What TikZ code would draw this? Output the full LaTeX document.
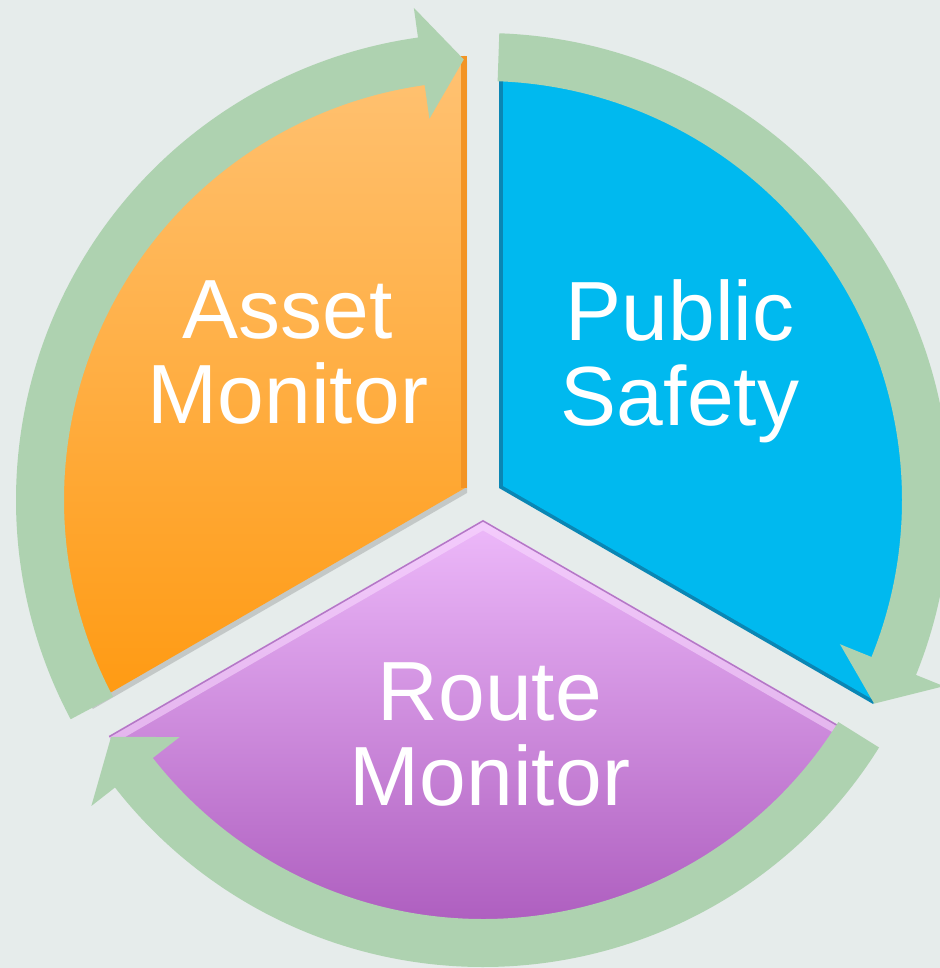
\documentclass[tikz,border=0pt]{standalone}
\usepackage{fontspec}
\setmainfont{Liberation Sans}
\definecolor{bgcol}{HTML}{E6ECEB}
\definecolor{ringgreen}{HTML}{AED2B0}
\definecolor{assettop}{HTML}{FFC273}
\definecolor{assetbottom}{HTML}{FF9A12}
\definecolor{assetedge}{HTML}{F39424}
\definecolor{safetyblue}{HTML}{00B9EF}
\definecolor{safetyedge}{HTML}{0A86B4}
\definecolor{routetop}{HTML}{EDB9FA}
\definecolor{routebottom}{HTML}{A04AB2}
\definecolor{routeglow}{HTML}{FADCFF}
\definecolor{routeedge}{HTML}{B478C6}
\tikzset{
	sector label/.style={text=white, align=center, inner sep=0pt, font=\fontsize{42}{42.5}\selectfont},
	ring arrow/.style={fill=ringgreen},
}

\begin{document}
\begin{tikzpicture}[x=0.5pt, y=0.5pt]
	\fill[bgcol] (-483,-468) rectangle (457,500);
	\useasboundingbox (-483,-468) rectangle (457,500);

	\fill[black, opacity=0.15] (-16,7) -- ++(90:432) arc[start angle=90, end angle=210, radius=432] -- cycle;
	\shade[top color=assettop, bottom color=assetbottom] (-18,12) -- ++(90:432) arc[start angle=90, end angle=210, radius=432] -- cycle;
	\draw[assetedge, line width=3] (-19.5,12) -- ++(90:432);

	\fill[safetyedge] (16,12) -- ++(90:432) arc[start angle=90, end angle=-30, radius=432] -- cycle;
	\fill[safetyblue] (20,14) -- ++(90:432) arc[start angle=90, end angle=-30, radius=432] -- cycle;

	\shade[top color=routetop, bottom color=routebottom] (0,-20) -- ++(210:432) arc[start angle=210, end angle=330, radius=432] -- cycle;
	\begin{scope}
		\clip (0,-20) -- ++(210:432) arc[start angle=210, end angle=330, radius=432] -- cycle;
		\draw[routeglow, opacity=0.55, line width=9] (0,-20) ++(210:432) -- (0,-20) -- ++(330:432);
		\draw[routeedge, line width=1.5] (0,-20) ++(210:432) -- (0,-20) -- ++(330:432);
	\end{scope}

	\foreach \s in {208,88,-32}
		\fill[ring arrow] (\s:467) arc[start angle=\s, end angle=\s-110, radius=467] -- (\s-110:497) -- (\s-115.5:441) -- (\s-110:385) -- (\s-110:419) arc[start angle=\s-110, end angle=\s, radius=419] -- cycle;

	\node[sector label] (asset) at (-195,147) {Asset\\Monitor};
	\node[sector label] (safety) at (197,139) {Public\\Safety};
	\node[sector label] (route) at (7,-235) {Route\\Monitor};
\end{tikzpicture}
\end{document}
